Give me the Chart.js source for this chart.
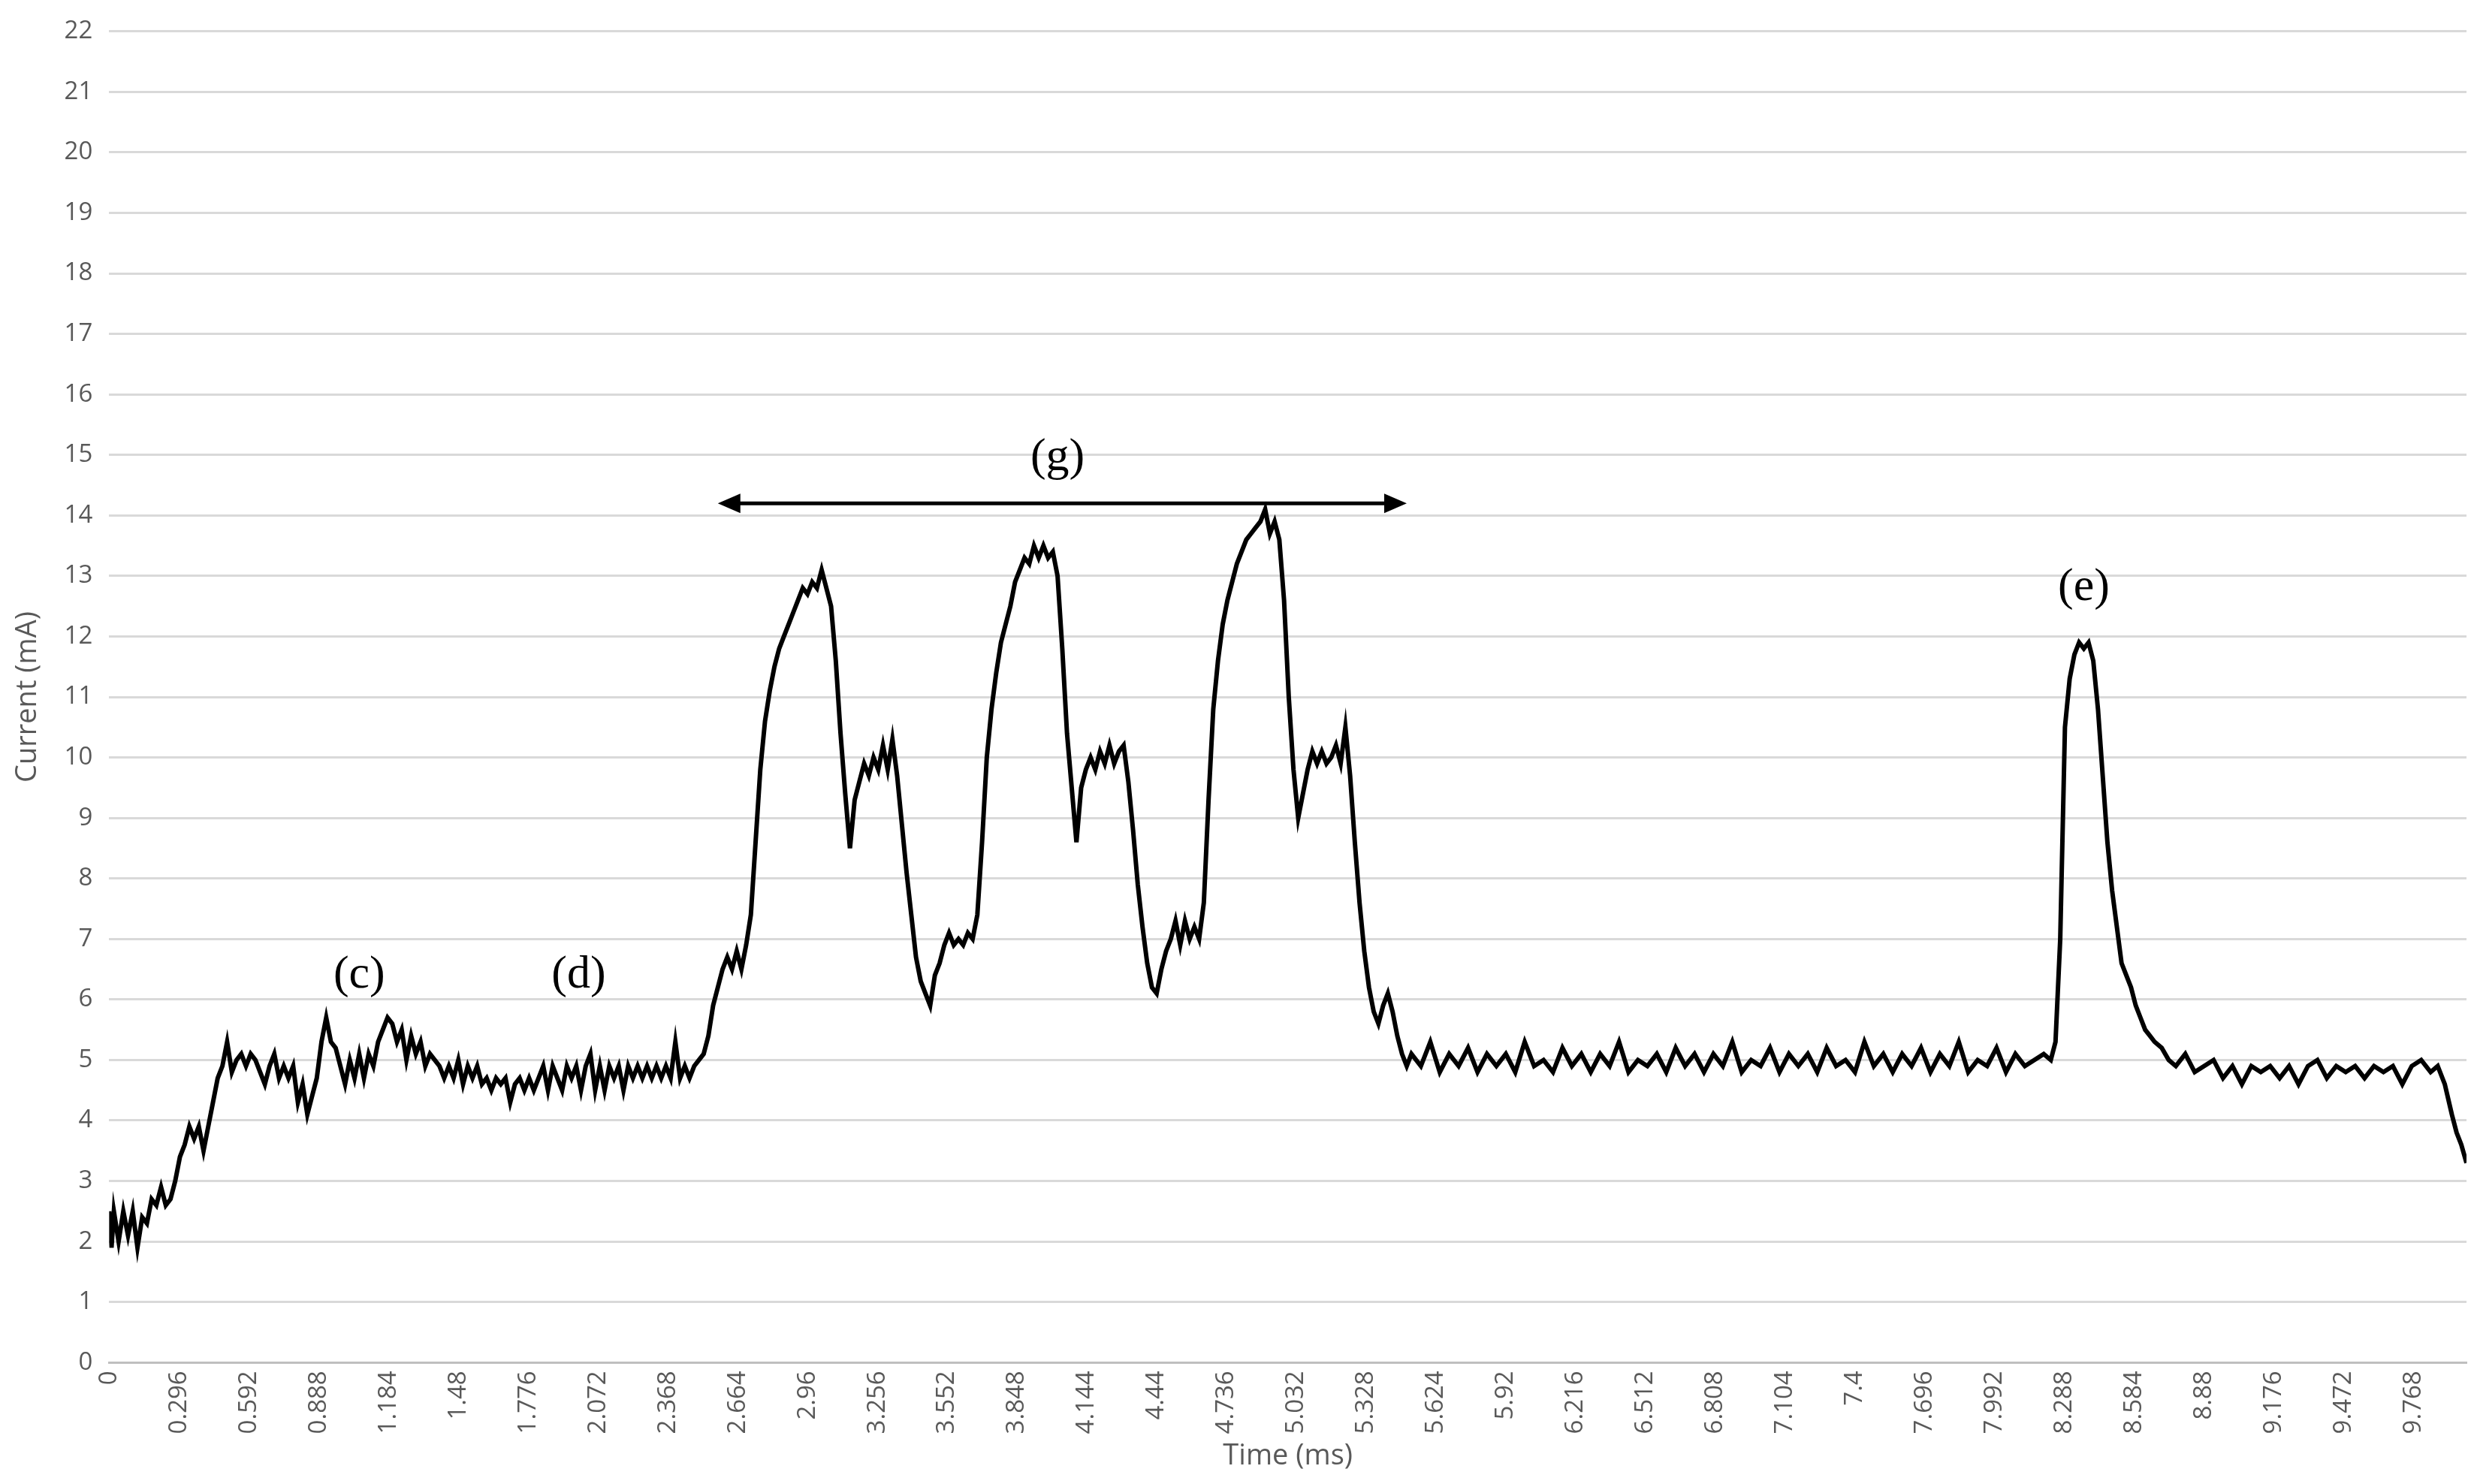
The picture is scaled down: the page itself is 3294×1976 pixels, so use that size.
<!DOCTYPE html>
<html><head><meta charset="utf-8">
<script src="https://cdn.jsdelivr.net/npm/chart.js@4.4.1/dist/chart.umd.min.js"></script>
<style>html,body{margin:0;padding:0;background:#fff}#w{width:3294px;height:1976px}</style>
</head><body><div id="w"><canvas id="c"></canvas></div>
<script>
const timeMs=[0,0.01,0.02,0.04,0.06,0.08,0.1,0.12,0.14,0.16,0.18,0.2,0.22,0.24,0.26,0.28,0.3,0.32,0.34,0.36,0.38,0.4,0.42,0.44,0.46,
0.48,0.5,0.52,0.54,0.56,0.58,0.6,0.62,0.64,0.66,0.68,0.7,0.72,0.74,0.76,0.78,0.8,0.82,0.84,0.86,0.88,0.9,0.92,0.94,0.96,0.98,1.0,1.02,1.04,1.06,1.08,1.1,1.12,1.14,1.16,1.18,1.2,1.22,1.24,1.26,1.28,1.3,1.32,1.34,1.36,1.38,1.4,1.42,1.44,1.46,1.48,1.5,1.52,1.54,1.56,1.58,1.6,1.62,1.64,1.66,1.68,1.7,1.72,1.74,1.76,1.78,1.8,1.82,1.84,1.86,1.88,1.9,1.92,1.94,1.96,1.98,2.0,2.02,2.04,2.06,2.08,2.1,2.12,2.14,2.16,2.18,2.2,2.22,2.24,2.26,2.28,2.3,2.32,2.34,2.36,2.38,2.4,2.42,2.44,2.46,2.48,2.5,2.52,
2.54,2.56,2.58,2.6,2.62,2.64,2.66,2.68,2.7,2.72,2.74,2.76,2.78,2.8,2.82,2.84,2.86,2.88,2.9,2.92,2.94,2.96,2.98,3.0,3.02,3.04,3.06,3.08,3.1,3.12,3.14,3.16,3.18,3.2,3.22,3.24,3.26,3.28,3.3,3.32,3.34,3.36,3.38,3.4,3.42,3.44,3.46,3.48,3.5,3.52,3.54,3.56,3.58,3.6,3.62,3.64,3.66,3.68,3.7,3.72,3.74,3.76,3.78,3.8,3.82,3.84,3.86,3.88,3.9,3.92,3.94,3.96,3.98,4.0,4.02,4.04,4.06,4.08,4.1,4.12,4.14,4.16,4.18,4.2,4.22,4.24,4.26,4.28,4.3,4.32,4.34,4.36,4.38,4.4,4.42,4.44,4.46,4.48,4.5,4.52,4.54,4.56,4.58,4.6,4.62,4.64,4.66,4.68,4.7,4.72,4.74,4.76,4.78,4.8,4.82,4.84,4.86,4.88,4.9,4.92,4.94,4.96,4.98,5.0,5.02,5.04,5.06,5.08,5.1,5.12,5.14,5.16,5.18,5.2,5.22,5.24,5.26,5.28,5.3,5.32,5.34,5.36,5.38,5.4,5.42,5.44,5.46,5.48,5.5,5.52,
5.56,5.6,5.64,5.68,5.72,5.76,5.8,5.84,5.88,5.92,5.96,6.0,6.04,6.08,6.12,6.16,6.2,6.24,6.28,6.32,6.36,6.4,6.44,6.48,6.52,6.56,6.6,6.64,6.68,6.72,6.76,6.8,6.84,6.88,6.92,6.96,7.0,7.04,7.08,7.12,7.16,7.2,7.24,7.28,7.32,7.36,7.4,7.44,7.48,7.52,7.56,7.6,7.64,7.68,7.72,7.76,7.8,7.84,7.88,7.92,7.96,8.0,8.04,8.08,8.12,8.16,8.2,8.23,
8.25,8.27,8.29,8.31,8.33,8.35,8.37,8.39,8.41,8.43,8.45,8.47,8.49,8.51,8.53,8.55,8.57,8.59,8.61,8.63,8.65,8.67,8.7,8.73,8.76,8.8,8.84,8.88,8.92,8.96,9.0,9.04,9.08,9.12,9.16,9.2,9.24,9.28,9.32,9.36,9.4,9.44,9.48,9.52,9.56,9.6,9.64,9.68,9.72,9.76,9.8,9.84,9.87,9.9,9.93,9.95,9.97,9.992];
const currentMa=[2.5,1.9,2.5,2.0,2.5,2.1,2.5,1.9,2.4,2.3,2.7,2.6,2.9,2.6,2.7,3.0,3.4,3.6,3.9,3.7,3.9,3.5,3.9,4.3,4.7,
4.9,5.3,4.8,5.0,5.1,4.9,5.1,5.0,4.8,4.6,
4.9,5.1,4.7,4.9,4.7,4.9,4.3,4.6,4.1,4.4,
4.7,5.3,5.7,5.3,5.2,4.9,4.6,5.0,4.7,5.1,
4.7,5.1,4.9,5.3,5.5,5.7,5.6,5.3,5.5,5.0,
5.4,5.1,5.3,4.9,5.1,5.0,4.9,4.7,4.9,4.7,
5.0,4.6,4.9,4.7,4.9,4.6,4.7,4.5,4.7,4.6,
4.7,4.3,4.6,4.7,4.5,4.7,4.5,4.7,4.9,4.5,
4.9,4.7,4.5,4.9,4.7,4.9,4.5,4.9,5.1,4.5,
4.9,4.5,4.9,4.7,4.9,4.5,4.9,4.7,4.9,4.7,
4.9,4.7,4.9,4.7,4.9,4.7,5.3,4.7,4.9,4.7,
4.9,5.0,5.1,
5.4,5.9,6.2,6.5,6.7,6.5,6.8,6.5,6.9,7.4,
8.6,9.8,10.6,11.1,11.5,11.8,12.0,12.2,12.4,12.6,
12.8,12.7,12.9,12.8,13.1,12.8,12.5,11.6,10.4,9.4,
8.5,9.3,9.6,9.9,9.7,10.0,9.8,10.2,9.8,10.3,
9.7,8.9,8.1,7.4,6.7,6.3,6.1,5.9,6.4,6.6,
6.9,7.1,6.9,7.0,6.9,7.1,7.0,7.4,8.6,10.0,
10.8,11.4,11.9,12.2,12.5,12.9,13.1,13.3,13.2,13.5,
13.3,13.5,13.3,13.4,13.0,11.8,10.4,9.5,8.6,9.5,
9.8,10.0,9.8,10.1,9.9,10.2,9.9,10.1,10.2,9.6,
8.8,7.9,7.2,6.6,6.2,6.1,6.5,6.8,7.0,7.3,
6.9,7.3,7.0,7.2,7.0,7.6,9.3,10.8,11.6,12.2,
12.6,12.9,13.2,13.4,13.6,13.7,13.8,13.9,14.1,13.7,
13.9,13.6,12.6,11.0,9.8,9.0,9.4,9.8,10.1,9.9,
10.1,9.9,10.0,10.2,9.9,10.5,9.7,8.6,7.6,6.8,
6.2,5.8,5.6,5.9,6.1,5.8,5.4,5.1,4.9,5.1,
4.9,5.3,4.8,5.1,4.9,5.2,4.8,5.1,4.9,5.1,
4.8,5.3,4.9,5.0,4.8,5.2,4.9,5.1,4.8,5.1,
4.9,5.3,4.8,5.0,4.9,5.1,4.8,5.2,4.9,5.1,
4.8,5.1,4.9,5.3,4.8,5.0,4.9,5.2,4.8,5.1,
4.9,5.1,4.8,5.2,4.9,5.0,4.8,5.3,4.9,5.1,
4.8,5.1,4.9,5.2,4.8,5.1,4.9,5.3,4.8,5.0,
4.9,5.2,4.8,5.1,4.9,5.0,5.1,5.0,
5.3,7.0,10.5,11.3,11.7,11.9,11.8,11.9,11.6,10.8,
9.7,8.6,7.8,7.2,6.6,6.4,6.2,5.9,5.7,5.5,
5.4,5.3,5.2,5.0,4.9,
5.1,4.8,4.9,5.0,4.7,4.9,4.6,4.9,4.8,4.9,
4.7,4.9,4.6,4.9,5.0,4.7,4.9,4.8,4.9,4.7,
4.9,4.8,4.9,4.6,4.9,5.0,4.8,
4.9,4.6,4.1,3.8,3.6,3.3];
const tickLabels=['0','0.296','0.592','0.888','1.184','1.48','1.776','2.072','2.368','2.664','2.96','3.256','3.552','3.848','4.144','4.44','4.736','5.032','5.328','5.624','5.92','6.216','6.512','6.808','7.104','7.4','7.696','7.992','8.288','8.584','8.88','9.176','9.472','9.768'];
const notes=[{t:'(c)',x:1.06,y:6.4},{t:'(d)',x:1.99,y:6.4},{t:'(g)',x:4.02,y:14.95},{t:'(e)',x:8.37,y:12.8}];
const arrow={x1:2.58,x2:5.5,y:14.2};

const ann={id:'ann',afterDatasetsDraw(ch){const c=ch.ctx,xs=ch.scales.x,ys=ch.scales.y;c.save();
c.fillStyle='#000';c.font='62px "Liberation Serif","DejaVu Serif",serif';c.textAlign='center';c.textBaseline='middle';
notes.forEach(n=>c.fillText(n.t,xs.getPixelForValue(n.x),ys.getPixelForValue(n.y)));
const a=xs.getPixelForValue(arrow.x1),b=xs.getPixelForValue(arrow.x2),y=ys.getPixelForValue(arrow.y);
c.strokeStyle='#000';c.lineWidth=5;c.beginPath();c.moveTo(a+20,y);c.lineTo(b-20,y);c.stroke();
c.beginPath();c.moveTo(a,y);c.lineTo(a+30,y-13);c.lineTo(a+30,y+13);c.closePath();c.fill();
c.beginPath();c.moveTo(b,y);c.lineTo(b-30,y-13);c.lineTo(b-30,y+13);c.closePath();c.fill();c.restore();}};

new Chart(document.getElementById('c'),{type:'line',
data:{datasets:[{data:timeMs.map((t,i)=>({x:t,y:currentMa[i]})),borderColor:'#000',borderWidth:6,pointRadius:0,tension:0}]},
options:{responsive:true,maintainAspectRatio:false,animation:false,
layout:{padding:{left:10,right:10,top:30,bottom:10}},
plugins:{legend:{display:false},tooltip:{enabled:false}},
scales:{x:{type:'linear',min:0,max:9.992,
afterBuildTicks(s){s.ticks=tickLabels.map(v=>({value:parseFloat(v)}));},
ticks:{autoSkip:false,minRotation:90,maxRotation:90,color:'#595959',font:{family:'"Open Sans","Noto Sans",sans-serif',size:33},
callback:(v,i)=>tickLabels[i]},
grid:{display:false},border:{color:'#bfbfbf',width:3},
title:{display:true,text:'Time (ms)',color:'#595959',font:{family:'"Open Sans","Noto Sans",sans-serif',size:38}}},
y:{min:0,max:22,ticks:{stepSize:1,color:'#595959',padding:22,font:{family:'"Open Sans","Noto Sans",sans-serif',size:33}},
grid:{color:'#d9d9d9',lineWidth:3,drawTicks:false},border:{display:false},
title:{display:true,text:'Current (mA)',color:'#595959',font:{family:'"Open Sans","Noto Sans",sans-serif',size:38}}}}},
plugins:[ann]});
</script></body></html>
